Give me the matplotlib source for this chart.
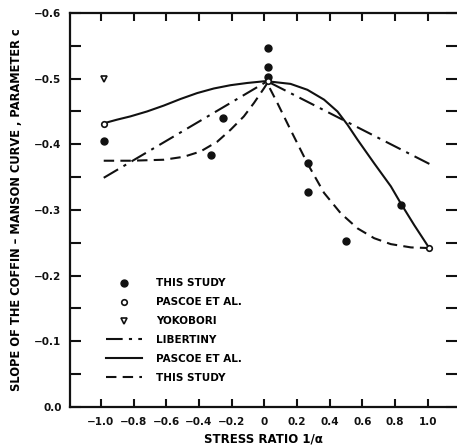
"""Slope of the Coffin-Manson curve versus stress ratio (scanned figure recreation)."""

import matplotlib.pyplot as plt
from matplotlib.lines import Line2D
from matplotlib.ticker import FixedLocator, MultipleLocator

INK = "#111111"

# measured points
study_x = [-0.98, -0.325, -0.25, 0.02, 0.02, 0.02, 0.27, 0.265, 0.50, 0.835]
study_y = [-0.405, -0.383, -0.44, -0.546, -0.518, -0.503, -0.372, -0.328, -0.253, -0.308]

pascoe_x = [-0.98, 0.02, 1.01]
pascoe_y = [-0.431, -0.497, -0.242]

yokobori_x = [-0.98]
yokobori_y = [-0.50]

# fitted curves
libertiny_x = [-0.983, 0.018, 1.02]
libertiny_y = [-0.349, -0.496, -0.369]

pascoe_fit_x = [-0.983, -0.902, -0.820, -0.718, -0.615, -0.513, -0.411, -0.309,
                -0.207, -0.104, 0.0, 0.018, 0.161, 0.264, 0.366, 0.448, 0.509,
                0.571, 0.673, 0.775, 0.836, 0.918, 1.01]
pascoe_fit_y = [-0.432, -0.4375, -0.4425, -0.450, -0.459, -0.469, -0.478, -0.485,
                -0.490, -0.4934, -0.496, -0.496, -0.492, -0.483, -0.468, -0.450,
                -0.430, -0.407, -0.371, -0.336, -0.310, -0.277, -0.242]

study_fit_x = [-0.983, -0.820, -0.615, -0.493, -0.391, -0.288, -0.207, -0.125,
               -0.063, 0.0, 0.018, 0.08, 0.161, 0.264, 0.366, 0.468, 0.571,
               0.673, 0.775, 0.898, 1.01]
study_fit_y = [-0.375, -0.375, -0.3765, -0.381, -0.389, -0.404, -0.422, -0.4425,
               -0.463, -0.486, -0.493, -0.463, -0.422, -0.371, -0.326, -0.295,
               -0.272, -0.257, -0.248, -0.243, -0.242]

x_ticks = [-1.0, -0.8, -0.6, -0.4, -0.2, 0.0, 0.2, 0.4, 0.6, 0.8, 1.0]
x_labels = ["\u22121.0", "\u22120.8", "\u22120.6", "\u22120.4", "\u22120.2", "0",
            "0.2", "0.4", "0.6", "0.8", "1.0"]
y_ticks = [-0.6, -0.5, -0.4, -0.3, -0.2, -0.1, 0.0]
y_labels = ["\u22120.6", "\u22120.5", "\u22120.4", "\u22120.3", "\u22120.2", "\u22120.1", "0.0"]


def main() -> None:
    plt.rcParams["font.family"] = "DejaVu Sans"
    plt.rcParams["font.weight"] = "bold"

    fig = plt.figure(figsize=(4.57, 4.47), dpi=100)
    ax = fig.add_axes([0.153, 0.0895, 0.847, 0.8815])

    dashdot = (0, (8, 3, 1.5, 3))
    dashed = (0, (5, 3))

    ax.plot(libertiny_x, libertiny_y, color=INK, lw=1.5, linestyle=dashdot)
    ax.plot(pascoe_fit_x, pascoe_fit_y, color=INK, lw=1.5, linestyle="-",
            solid_joinstyle="round")
    ax.plot(study_fit_x, study_fit_y, color=INK, lw=1.5, linestyle=dashed)

    ax.plot(study_x, study_y, "o", color=INK, ms=5, linestyle="none", zorder=5)
    ax.plot(pascoe_x, pascoe_y, "o", mfc="white", mec=INK, mew=1.2, ms=4,
            linestyle="none", zorder=6)
    ax.plot(yokobori_x, yokobori_y, "v", mfc="white", mec=INK, mew=1.2, ms=5,
            linestyle="none", zorder=6)

    ax.set_xlim(-1.19, 1.18)
    ax.set_ylim(0.0, -0.6)

    ax.xaxis.set_major_locator(FixedLocator(x_ticks))
    ax.set_xticklabels(x_labels)
    ax.yaxis.set_major_locator(FixedLocator(y_ticks))
    ax.set_yticklabels(y_labels)
    ax.yaxis.set_minor_locator(MultipleLocator(0.05))

    for side in ("left", "bottom", "top"):
        ax.spines[side].set_linewidth(1.6)
        ax.spines[side].set_color(INK)
    ax.spines["right"].set_visible(False)

    ax.tick_params(axis="x", direction="in", length=6, width=1.5, top=True,
                   labelsize=7.5, pad=7, colors=INK)
    ax.tick_params(axis="y", which="both", direction="in", length=8, width=1.5,
                   right=True, labelsize=7.5, pad=6, colors=INK)

    ax.set_xlabel("STRESS RATIO 1/\u03b1", fontsize=8.5, fontweight="bold", labelpad=4)
    ax.set_ylabel("SLOPE OF THE COFFIN \u2013 MANSON CURVE , PARAMETER c",
                  fontsize=8.3, fontweight="bold", labelpad=8)

    handles = [
        Line2D([], [], marker="o", color=INK, ms=5, linestyle="none"),
        Line2D([], [], marker="o", mfc="white", mec=INK, mew=1.2, ms=4, linestyle="none"),
        Line2D([], [], marker="v", mfc="white", mec=INK, mew=1.2, ms=5, linestyle="none"),
        Line2D([], [], color=INK, lw=1.5, linestyle=dashdot),
        Line2D([], [], color=INK, lw=1.5, linestyle="-"),
        Line2D([], [], color=INK, lw=1.5, linestyle=dashed),
    ]
    labels = ["THIS STUDY", "PASCOE ET AL.", "YOKOBORI", "LIBERTINY",
              "PASCOE ET AL.", "THIS STUDY"]
    ax.legend(handles, labels, loc="upper left", bbox_to_anchor=(0.07, 0.35),
              frameon=False, handlelength=3.4, handletextpad=1.4,
              labelspacing=0.85, prop={"size": 7.5, "weight": "bold"})

    fig.savefig("out.png", dpi=100, facecolor="white")
    plt.close(fig)


if __name__ == "__main__":
    main()
